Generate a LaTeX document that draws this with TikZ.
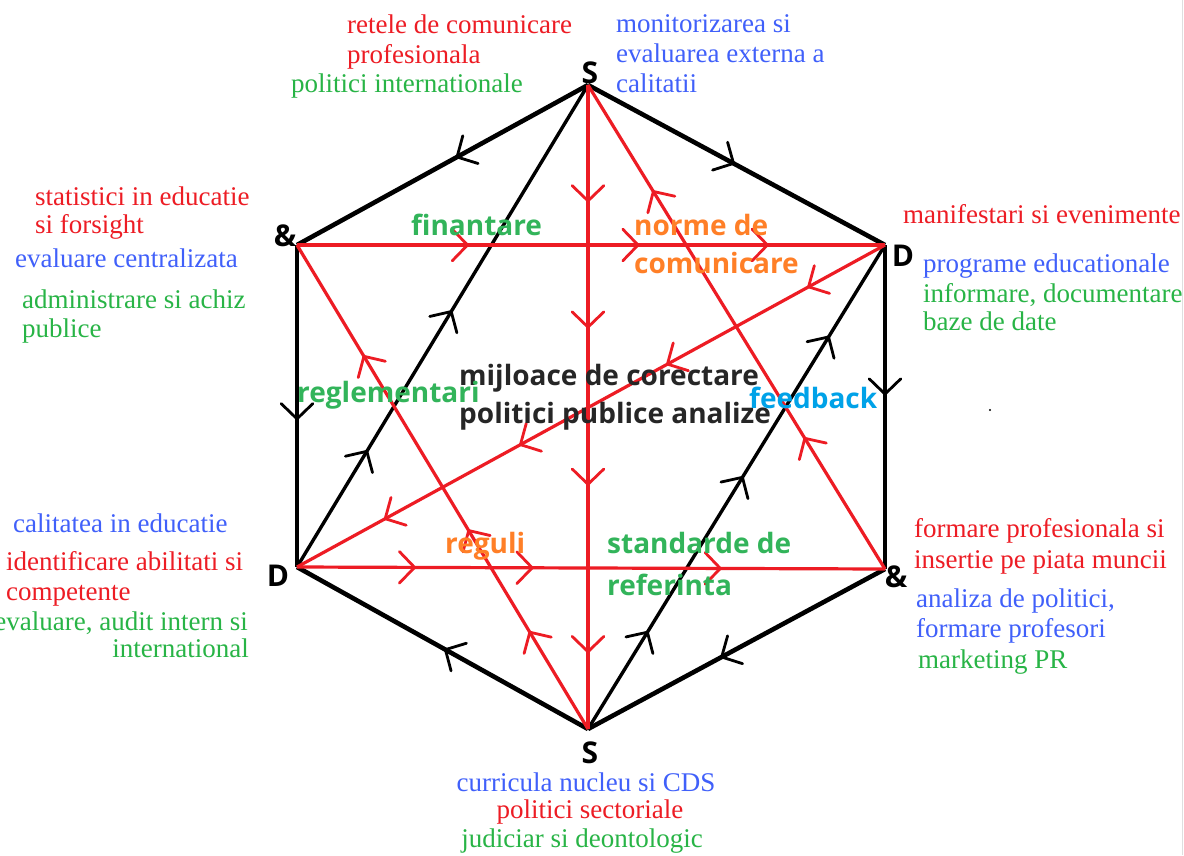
\documentclass[tikz,border=0pt]{standalone}
\usepackage{fontspec}
\setmainfont{Liberation Serif}
\newfontfamily\sansb{Open Sans}
\usetikzlibrary{calc}
\definecolor{pred}{RGB}{237,28,36}
\definecolor{pgreen}{RGB}{40,180,70}
\definecolor{pblue}{RGB}{64,96,250}
\definecolor{porange}{RGB}{255,127,39}
\definecolor{pcyan}{RGB}{0,162,232}
\definecolor{lgreen}{RGB}{50,180,90}
% chevron on the line from #2 to #3, at fraction #4, pointing towards #3
\newcommand\chv[4][black]{\coordinate (tp) at ($(#2)!#4!(#3)$);
  \draw[chevst,#1] ($(tp)!22pt!46:(#2)$) -- (tp) -- ($(tp)!22pt!-46:(#2)$);}
\begin{document}
\begin{tikzpicture}[x=1pt,y=-1pt,
  serif/.style={font=\fontsize{27}{30}\selectfont, inner sep=0pt},
  lbl/.style={font=\sansb\bfseries\fontsize{28}{30}\selectfont, inner sep=0pt},
  vtx/.style={font=\sansb\bfseries\fontsize{30}{30}\selectfont, inner sep=0pt},
  blk/.style={black, line width=4.6pt, line join=round},
  blkin/.style={black, line width=3.4pt},
  redl/.style={pred, line width=3.2pt},
  chevst/.style={line width=2.8pt, line cap=round, line join=miter},
]
\useasboundingbox[fill=white] (0,0) rectangle (1184,855);
\draw[gray!25, line width=1pt] (1182.5,0) -- (1182.5,855);

% vertices
\coordinate (St) at (588,85);
\coordinate (Aul) at (297,245);
\coordinate (Dur) at (885,245);
\coordinate (Dll) at (297,567);
\coordinate (Alr) at (885,569);
\coordinate (Sb) at (588,729);

% hexagon
\draw[blk] (St) -- (Aul);
\draw[blk] (St) -- (Dur);
\draw[blk] (Aul) -- (Dll);
\draw[blk] (Dur) -- (Alr);
\draw[blk] (Sb) -- (Dll);
\draw[blk] (Alr) -- (Sb);
\chv{St}{Aul}{0.45}
\chv{St}{Dur}{0.49}
\chv{Aul}{Dll}{0.54}
\chv{Dur}{Alr}{0.46}
\chv{Sb}{Dll}{0.49}
\chv{Alr}{Sb}{0.55}
% inner black
\draw[blkin] (Dll) -- (St);
\draw[blkin] (Sb) -- (Dur);
\foreach \t in {0.24,0.53} {\chv{Dll}{St}{\t}}
\foreach \t in {0.2,0.52,0.81} {\chv{Sb}{Dur}{\t}}
% red
\draw[redl] (St) -- (Sb);
\draw[redl] (Aul) -- (Dur);
\draw[redl] (Dur) -- (Dll);
\draw[redl] (Dll) -- (Alr);
\draw[redl] (Alr) -- (St);
\draw[redl] (Sb) -- (Aul);
\foreach \t in {0.18,0.376,0.62,0.88} {\chv[pred]{St}{Sb}{\t}}
\foreach \t in {0.29,0.58,0.8} {\chv[pred]{Aul}{Dur}{\t}}
\foreach \t in {0.13,0.37,0.62,0.85} {\chv[pred]{Dur}{Dll}{\t}}
\foreach \t in {0.2,0.4,0.72} {\chv[pred]{Dll}{Alr}{\t}}
\foreach \t in {0.27,0.78} {\chv[pred]{Alr}{St}{\t}}
\foreach \t in {0.2,0.41,0.77} {\chv[pred]{Sb}{Aul}{\t}}

% vertex labels
\node[vtx, anchor=base] (lSt) at (590,83) {S};
\node[vtx, anchor=base] (lAul) at (285,246) {\&};
\node[vtx, anchor=base] (lDur) at (903,266) {D};
\node[vtx, anchor=base] (lDll) at (278,586) {D};
\node[vtx, anchor=base] (lAlr) at (896,587) {\&};
\node[vtx, anchor=base] (lSb) at (590,763) {S};

% inner labels
\node[lbl, lgreen, anchor=base west] (fin) at (411,235) {finantare};
\node[lbl, porange, anchor=base west] (norme) at (634,235) {norme de};
\node[lbl, porange, anchor=base west] (comu) at (634,273) {comunicare};
\node[lbl, black!85, anchor=base west] (mij) at (459,385) {mijloace de corectare};
\node[lbl, black!85, anchor=base west] (pol) at (459,423) {politici publice analize};
\node[lbl, lgreen, anchor=base west] (regl) at (297,402) {reglementari};
\node[lbl, pcyan, anchor=base west] (feed) at (749,408) {feedback};
\node[lbl, porange, anchor=base west] (reg) at (445,553) {reguli};
\node[lbl, lgreen, anchor=base west] (std) at (607,553) {standarde de};
\node[lbl, lgreen, anchor=base west] (ref) at (607,595) {referinta};

% outer texts top
\node[serif, pred, anchor=base west] (t1) at (347,33) {retele de comunicare};
\node[serif, pred, anchor=base west] (t2) at (347,63) {profesionala};
\node[serif, pgreen, anchor=base west] (t3) at (291,92) {politici internationale};
\node[serif, pblue, anchor=base west] (t4) at (616,32) {monitorizarea si};
\node[serif, pblue, anchor=base west] (t5) at (616,62) {evaluarea externa a};
\node[serif, pblue, anchor=base west] (t6) at (616,92) {calitatii};
% left upper
\node[serif, pred, anchor=base west] (l1) at (35,205) {statistici in educatie};
\node[serif, pred, anchor=base west] (l2) at (35,233) {si forsight};
\node[serif, pblue, anchor=base west] (l3) at (15,267) {evaluare centralizata};
\node[serif, pgreen, anchor=base west] (l4) at (22,308) {administrare si achiz};
\node[serif, pgreen, anchor=base west] (l5) at (22,337) {publice};
% right upper
\node[serif, pred, anchor=base west] (r1) at (903,223) {manifestari si evenimente};
\node[serif, pblue, anchor=base west] (r2) at (923,272) {programe educationale};
\node[serif, pgreen, anchor=base west] (r3) at (923,302) {informare, documentare};
\node[serif, pgreen, anchor=base west] (r4) at (923,330) {baze de date};
% left lower
\node[serif, pblue, anchor=base west] (b1) at (13,532) {calitatea in educatie};
\node[serif, pred, anchor=base west] (b2) at (6,570) {identificare abilitati si};
\node[serif, pred, anchor=base west] (b3) at (6,600) {competente};
\node[serif, pgreen, anchor=base east] (b4) at (248,630) {evaluare, audit intern si};
\node[serif, pgreen, anchor=base east] (b5) at (249,657) {international};
% right lower
\node[serif, pred, anchor=base west] (q1) at (914,537) {formare profesionala si};
\node[serif, pred, anchor=base west] (q2) at (914,568) {insertie pe piata muncii};
\node[serif, pblue, anchor=base west] (q3) at (916,607) {analiza de politici,};
\node[serif, pblue, anchor=base west] (q4) at (916,637) {formare profesori};
\node[serif, pgreen, anchor=base west] (q5) at (918,668) {marketing PR};
% bottom
\node[serif, pblue, anchor=base] (s1) at (586,791) {curricula nucleu si CDS};
\node[serif, pred, anchor=base] (s2) at (590,818) {politici sectoriale};
\node[serif, pgreen, anchor=base] (s3) at (582,847) {judiciar si deontologic};

\fill[black] (990,410) circle (1.2pt);
\end{tikzpicture}
\end{document}
